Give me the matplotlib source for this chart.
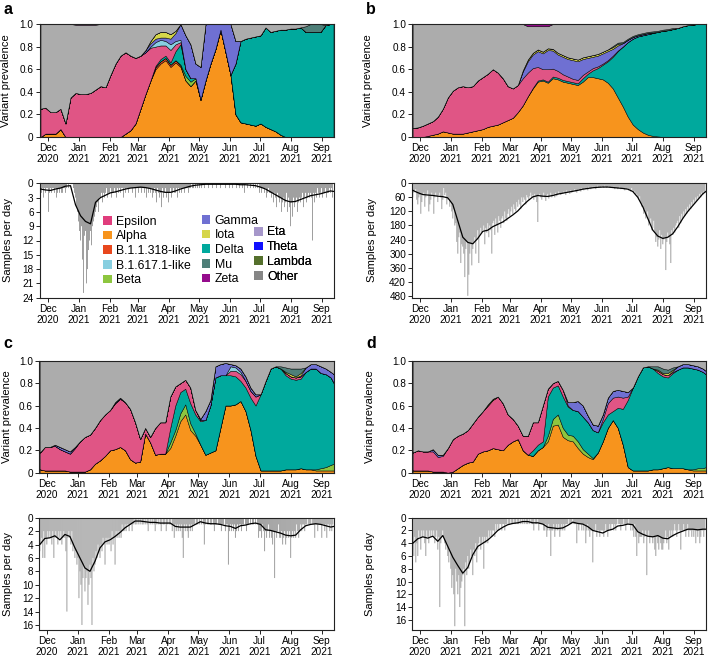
import matplotlib
matplotlib.use('Agg')
import matplotlib.pyplot as plt
import matplotlib.dates as mdates
from matplotlib.patches import Patch
import pandas as pd

plt.rcParams['font.family'] = ['Liberation Sans', 'DejaVu Sans']

# ---------------- x data ----------------
START = '2020-11-24'
N_DAYS = 293
GRID_DAYS = [0, 5, 10, 15, 20, 25, 30, 35, 40, 45, 50, 55, 60, 65, 70, 75, 80, 85, 90, 95,
             100, 105, 110, 115, 120, 125, 130, 135, 140, 145, 150, 155, 160, 165, 170, 175, 180, 185, 190, 195,
             200, 205, 210, 215, 220, 225, 230, 235, 240, 245, 250, 255, 260, 265, 270, 275, 280, 285, 290, 293]
MONTH_TICKS = ['2020-12-01', '2021-01-01', '2021-02-01', '2021-03-01', '2021-04-01',
               '2021-05-01', '2021-06-01', '2021-07-01', '2021-08-01', '2021-09-01']
MONTH_LABELS = ['Dec\n2020', 'Jan\n2021', 'Feb\n2021', 'Mar\n2021', 'Apr\n2021',
                'May\n2021', 'Jun\n2021', 'Jul\n2021', 'Aug\n2021', 'Sep\n2021']

VARIANTS = ['Epsilon', 'Alpha', 'B.1.1.318-like', 'B.1.617.1-like', 'Beta', 'Gamma', 'Iota',
            'Delta', 'Mu', 'Zeta', 'Eta', 'Theta', 'Lambda', 'Other']
FILL_COLORS = ['#e05585', '#f7941d', '#e8471d', '#88cfe0', '#8dc63f', '#6f70d2', '#d6d64a',
               '#00a99d', '#4e7f78', '#950c8c', '#a697ca', '#1010ff', '#55702c', '#acacac']
LEGEND_COLORS = ['#e03d7c', '#f7941d', '#e8471d', '#88cfe0', '#8dc63f', '#6f70d2', '#d6d64a',
                 '#00a99d', '#4e7f78', '#950c8c', '#a697ca', '#1010ff', '#55702c', '#868686']
STACK_ORDER = ['Alpha', 'B.1.1.318-like', 'Beta', 'Delta', 'Epsilon', 'B.1.617.1-like',
               'Gamma', 'Iota', 'Mu', 'Other', 'Zeta']

# ---------------- panel a: variant shares ----------------
a_alpha = [0, .03, .03, .03, .07, 0, 0, 0, 0, 0,
           0, 0, 0, 0, 0, 0, 0, .03, .06, .12,
           .25, .38, .5, .6, .65, .68, .62, .66, .62, .5,
           .45, .5, .33, .5, .65, .78, .95, .75, .55, .2,
           .13, .12, .11, .1, .12, .09, .07, .05, .02, 0,
           0, 0, 0, 0, 0, 0, 0, 0, 0, 0]
a_b11318 = [0, 0, 0, 0, 0, 0, 0, 0, 0, 0,
            0, 0, 0, 0, 0, 0, 0, 0, 0, 0,
            0, 0, 0, .02, .02, .02, .02, .02, .01, 0,
            0, 0, 0, 0, 0, 0, 0, 0, 0, 0,
            0, 0, 0, 0, 0, 0, 0, 0, 0, 0,
            0, 0, 0, 0, 0, 0, 0, 0, 0, 0]
a_b16171 = [0, 0, 0, 0, 0, 0, 0, 0, 0, 0,
            0, 0, 0, 0, 0, 0, 0, 0, 0, 0,
            0, 0, .01, .04, .05, .04, .05, .03, .02, 0,
            0, 0, 0, 0, 0, 0, 0, 0, 0, 0,
            0, 0, 0, 0, 0, 0, 0, 0, 0, 0,
            0, 0, 0, 0, 0, 0, 0, 0, 0, 0]
a_beta = [0, 0, 0, 0, 0, 0, 0, 0, 0, 0,
          0, 0, 0, 0, 0, 0, 0, 0, 0, 0,
          0, 0, 0, 0, 0, 0, 0, 0, .01, .04,
          .04, .02, 0, 0, 0, 0, 0, 0, 0, 0,
          0, 0, 0, 0, 0, 0, 0, 0, 0, 0,
          0, 0, 0, 0, 0, 0, 0, 0, 0, 0]
a_delta = [0, 0, 0, 0, 0, 0, 0, 0, 0, 0,
           0, 0, 0, 0, 0, 0, 0, 0, 0, 0,
           0, 0, 0, .01, .02, .02, .02, .08, .18, .06,
           .03, 0, 0, 0, 0, 0, 0, 0, 0, .45,
           .72, .75, .77, .79, .78, .88, .86, .89, .93, .95,
           .96, .96, .97, .93, .93, .93, .93, .99, 1, 1]
a_epsilon = [.25, .23, .19, .19, .18, .12, .35, .39, .38, .38,
             .39, .42, .45, .44, .55, .65, .72, .72, .66, .58,
             .47, .37, .29, .17, .12, .09, .11, .06, .02, 0,
             0, 0, 0, 0, 0, 0, 0, 0, 0, 0,
             0, 0, 0, 0, 0, 0, 0, 0, 0, 0,
             0, 0, 0, 0, 0, 0, 0, 0, 0, 0]
a_gamma = [0, 0, 0, 0, 0, 0, 0, 0, 0, 0,
           0, 0, 0, 0, 0, 0, 0, 0, 0, 0,
           0, .02, .03, .03, .02, .03, .05, .07, .14, .3,
           .3, .13, .29, .5, .35, .22, .05, .25, .45, .2,
           0, 0, 0, 0, 0, 0, 0, 0, 0, 0,
           0, 0, 0, 0, 0, 0, 0, 0, 0, 0]
a_iota = [0, 0, 0, 0, 0, 0, 0, 0, 0, 0,
          0, 0, 0, 0, 0, 0, 0, 0, 0, 0,
          0, 0, .02, .04, .05, .05, .04, .02, 0, 0,
          0, 0, 0, 0, 0, 0, 0, 0, 0, 0,
          0, 0, 0, 0, 0, 0, 0, 0, 0, 0,
          0, 0, 0, 0, 0, 0, 0, 0, 0, 0]
a_mu = [0, 0, 0, 0, 0, 0, 0, 0, 0, 0,
        0, 0, 0, 0, 0, 0, 0, 0, 0, 0,
        0, 0, 0, 0, 0, 0, 0, 0, 0, 0,
        0, 0, 0, 0, 0, 0, 0, 0, 0, 0,
        0, 0, 0, 0, 0, 0, 0, 0, 0, 0,
        0, 0, 0, .05, .07, .07, .07, 0, 0, 0]
a_zeta = [0, 0, 0, 0, 0, 0, 0, .006, .006, .006,
          .006, .006, 0, 0, 0, 0, 0, 0, 0, 0,
          0, 0, 0, 0, 0, 0, 0, 0, 0, 0,
          0, 0, 0, 0, 0, 0, 0, 0, 0, 0,
          0, 0, 0, 0, 0, 0, 0, 0, 0, 0,
          0, 0, 0, 0, 0, 0, 0, 0, 0, 0]
a_other = [.75, .74, .78, .78, .75, .88, .65, .604, .614, .614,
           .604, .574, .55, .56, .45, .35, .28, .25, .28, .3,
           .28, .23, .15, .09, .07, .07, .09, .06, 0, .1,
           .18, .35, .38, 0, 0, 0, 0, 0, 0, .15,
           .15, .13, .12, .11, .1, .03, .07, .06, .05, .05,
           .04, .04, .03, .02, 0, 0, 0, .01, 0, 0]

# ---------------- panel b: variant shares ----------------
b_alpha = [0, 0, 0, .01, .02, .03, .05, .04, .03, .03,
           .03, .04, .05, .06, .07, .09, .1, .11, .13, .15,
           .17, .22, .28, .36, .43, .49, .5, .48, .52, .51,
           .49, .48, .47, .46, .49, .53, .53, .52, .51, .48,
           .43, .35, .27, .18, .11, .07, .04, .02, .01, .005,
           0, 0, 0, 0, 0, 0, 0, 0, 0, 0]
b_delta = [0, 0, 0, 0, 0, 0, 0, 0, 0, 0,
           0, 0, 0, 0, 0, 0, 0, 0, 0, 0,
           0, 0, 0, 0, .005, .01, .01, .01, .015, .015,
           .015, .015, .015, .015, .03, .03, .06, .09, .13, .19,
           .28, .41, .53, .66, .76, .82, .86, .89, .91, .925,
           .94, .945, .955, .965, .98, .99, .995, 1, 1, 1]
b_epsilon = [.08, .085, .1, .11, .12, .15, .2, .31, .38, .41,
             .42, .4, .4, .44, .46, .47, .5, .46, .39, .3,
             .26, .24, .24, .21, .175, .12, .09, .11, .07, .06,
             .05, .04, .03, .03, .03, .02, .02, .015, .01, .01,
             .01, .005, 0, 0, 0, 0, 0, 0, 0, 0,
             0, 0, 0, 0, 0, 0, 0, 0, 0, 0]
b_gamma = [0, 0, 0, 0, 0, 0, 0, 0, 0, 0,
           0, 0, 0, 0, 0, 0, 0, 0, 0, 0,
           0, 0, .06, .1, .12, .14, .14, .17, .16, .145,
           .155, .155, .165, .165, .14, .12, .1, .095, .09, .08,
           .06, .045, .03, .02, .015, .01, .01, .01, .005, 0,
           0, 0, 0, 0, 0, 0, 0, 0, 0, 0]
b_iota = [0, 0, 0, 0, 0, 0, 0, 0, 0, 0,
          0, 0, 0, 0, 0, 0, 0, 0, 0, 0,
          0, 0, .01, .015, .015, .015, .015, .015, .015, .015,
          .015, .015, .015, .015, .015, .015, .015, .015, .015, .015,
          .015, .015, 0, 0, 0, 0, 0, 0, 0, 0,
          0, 0, 0, 0, 0, 0, 0, 0, 0, 0]
b_mu = [0, 0, 0, 0, 0, 0, 0, 0, 0, 0,
        0, 0, 0, 0, 0, 0, 0, 0, 0, 0,
        0, 0, 0, 0, 0, 0, 0, 0, 0, 0,
        0, 0, 0, 0, 0, 0, 0, 0, 0, 0,
        .01, .01, .01, .01, .01, .01, .01, .01, .01, .01,
        .01, .01, .01, 0, 0, 0, 0, 0, 0, 0]
b_zeta = [0, 0, 0, 0, 0, 0, 0, 0, 0, 0,
          0, 0, 0, 0, 0, 0, 0, 0, 0, 0,
          0, 0, 0, .02, .02, .02, .02, .02, 0, 0,
          0, 0, 0, 0, 0, 0, 0, 0, 0, 0,
          0, 0, 0, 0, 0, 0, 0, 0, 0, 0,
          0, 0, 0, 0, 0, 0, 0, 0, 0, 0]
b_other = [.92, .915, .9, .88, .86, .82, .75, .65, .59, .56,
           .55, .56, .55, .5, .47, .44, .4, .43, .48, .55,
           .57, .54, .41, .295, .235, .205, .225, .195, .22, .255,
           .275, .295, .305, .315, .295, .285, .275, .265, .245, .225,
           .195, .165, .16, .13, .105, .09, .08, .07, .065, .06,
           .05, .045, .035, .035, .02, .01, .005, 0, 0, 0]

# ---------------- panel c: variant shares ----------------
c_alpha = [.03, .02, .02, .02, .02, .02, .01, .01, .01, .01,
           .03, .08, .11, .15, .2, .21, .23, .2, .12, .09,
           .1, .35, .27, .16, .17, .17, .22, .33, .46, .52,
           .38, .33, .25, .16, .18, .2, .4, .6, .6, .61,
           .64, .55, .38, .15, .02, .02, .02, .02, .02, .03,
           .03, .03, .04, .03, .03, .02, .02, .02, .02, .02]
c_beta = [0, 0, 0, 0, 0, 0, 0, 0, 0, 0,
          0, 0, 0, 0, 0, 0, 0, 0, 0, 0,
          0, 0, 0, 0, 0, 0, .05, .05, .07, .09,
          .06, .02, 0, 0, 0, 0, 0, 0, 0, 0,
          0, 0, 0, 0, 0, 0, 0, 0, 0, 0,
          0, 0, 0, 0, 0, .01, .02, .03, .05, .06]
c_delta = [0, 0, 0, 0, 0, 0, 0, 0, 0, 0,
           0, 0, 0, 0, 0, 0, 0, 0, 0, 0,
           0, 0, 0, 0, 0, 0, .13, .22, .19, .14,
           .18, .17, .21, .31, .42, .65, .47, .27, .27, .25,
           .18, .21, .29, .45, .68, .8, .91, .93, .91, .84,
           .81, .8, .8, .87, .9, .9, .85, .83, .78, .72]
c_epsilon = [.15, .21, .21, .22, .19, .17, .16, .21, .27, .31,
             .31, .32, .36, .37, .36, .41, .43, .43, .45, .36,
             .2, .05, .05, .24, .28, .28, .28, .17, .08, .08,
             .14, .04, .01, 0, 0, 0, 0, 0, .04, .05,
             .06, .06, .06, .08, 0, 0, 0, 0, 0, .02,
             .02, .02, .02, 0, 0, 0, 0, 0, 0, 0]
c_b16171 = [0, 0, 0, 0, 0, 0, 0, 0, 0, 0,
            0, 0, 0, 0, 0, 0, 0, 0, 0, 0,
            0, 0, 0, 0, 0, 0, 0, 0, 0, 0,
            0, 0, 0, 0, 0, 0, 0, 0, .04, .03,
            .02, 0, 0, 0, 0, 0, 0, 0, 0, 0,
            0, 0, 0, 0, 0, 0, 0, 0, 0, 0]
c_gamma = [0, 0, 0, .01, .02, .02, .02, .01, 0, 0,
           0, 0, 0, 0, 0, .01, .01, 0, 0, 0,
           0, 0, 0, 0, 0, 0, 0, 0, 0, 0,
           0, 0, .01, .08, .05, .1, .1, .11, .02, .02,
           .03, .04, .03, .02, 0, 0, 0, 0, 0, 0,
           0, 0, .01, .04, .04, .04, .06, .05, .05, .08]
c_iota = [0, 0, 0, 0, 0, 0, 0, 0, 0, 0,
          0, 0, 0, 0, 0, 0, 0, 0, 0, 0,
          0, 0, 0, 0, 0, 0, 0, 0, 0, 0,
          0, 0, 0, 0, 0, 0, 0, 0, 0, 0,
          0, 0, 0, 0, 0, 0, 0, 0, 0, .01,
          .02, .01, .02, 0, 0, 0, 0, 0, 0, 0]
c_mu = [0, 0, 0, 0, 0, 0, 0, 0, 0, 0,
        0, 0, 0, 0, 0, 0, 0, 0, 0, 0,
        0, 0, 0, 0, 0, 0, 0, 0, 0, 0,
        0, 0, 0, 0, 0, 0, 0, 0, 0, 0,
        0, 0, 0, 0, 0, 0, 0, 0, .02, .04,
        .05, .07, .04, 0, 0, 0, 0, 0, 0, 0]
c_other = [.82, .77, .77, .75, .77, .79, .81, .77, .72, .68,
           .66, .6, .53, .48, .44, .37, .33, .37, .43, .55,
           .7, .6, .68, .6, .55, .55, .32, .23, .2, .17,
           .24, .44, .52, .45, .35, .05, .03, .02, .03, .04,
           .07, .14, .24, .3, .3, .18, .07, .05, .05, .06,
           .07, .07, .07, .06, .03, .03, .05, .07, .1, .12]

# ---------------- panel d: variant shares ----------------
d_alpha = [.02, .02, .02, .02, .01, .01, .01, 0, .01, .04,
           .07, .09, .1, .17, .19, .2, .22, .21, .2, .25,
           .28, .3, .2, .16, .15, .2, .23, .28, .42, .43,
           .32, .29, .28, .22, .17, .14, .12, .18, .28, .4,
           .47, .4, .25, .05, .02, .02, .02, .02, .03, .03,
           .04, .05, .04, .04, .04, .03, .02, .02, .02, .02]
d_beta = [0, 0, 0, 0, 0, 0, 0, 0, 0, 0,
          0, 0, 0, 0, 0, 0, 0, 0, 0, 0,
          0, 0, 0, 0, 0, 0, 0, .05, .06, .09,
          .08, .05, .05, .06, .04, .03, .01, 0, 0, 0,
          0, 0, 0, 0, 0, 0, 0, 0, 0, 0,
          0, 0, 0, 0, 0, 0, .01, .02, .02, .03]
d_delta = [0, 0, 0, 0, 0, 0, 0, 0, 0, 0,
           0, 0, 0, 0, 0, 0, 0, 0, 0, 0,
           0, 0, 0, 0, .05, .05, .05, .35, .28, .26,
           .28, .25, .23, .27, .29, .28, .25, .18, .17, .12,
           .08, .18, .32, .6, .74, .84, .92, .93, .9, .86,
           .82, .8, .85, .88, .9, .91, .9, .88, .86, .83]
d_epsilon = [.16, .18, .17, .17, .18, .13, .14, .22, .29, .29,
             .28, .29, .34, .33, .36, .4, .43, .47, .42, .27,
             .2, .12, .13, .17, .25, .2, .32, .07, .04, .04,
             .06, .01, 0, 0, 0, 0, 0, 0, .03, .1,
             .12, .1, .1, .03, 0, 0, 0, 0, 0, .02,
             .02, .02, .01, 0, 0, 0, 0, 0, 0, 0]
d_gamma = [0, 0, 0, 0, .02, .02, .01, 0, 0, 0,
           0, 0, 0, 0, 0, 0, 0, 0, 0, 0,
           0, 0, 0, 0, 0, 0, 0, 0, 0, 0,
           0, .03, .07, .09, .1, .06, .05, .06, .04, .05,
           .06, .06, .06, .04, 0, 0, 0, 0, 0, 0,
           0, 0, .01, .03, .03, .03, .03, .03, .03, .03]
d_iota = [0, 0, 0, 0, 0, 0, 0, 0, 0, 0,
          0, 0, 0, 0, 0, .01, .01, 0, 0, 0,
          0, 0, 0, 0, 0, 0, 0, 0, 0, 0,
          0, 0, 0, 0, 0, 0, 0, 0, 0, 0,
          0, 0, 0, 0, 0, 0, 0, 0, 0, .01,
          .01, .02, .01, 0, 0, 0, 0, 0, 0, 0]
d_mu = [0, 0, 0, 0, 0, 0, 0, 0, 0, 0,
        0, 0, 0, 0, 0, 0, 0, 0, 0, 0,
        0, 0, 0, 0, 0, 0, 0, 0, 0, 0,
        0, 0, 0, 0, 0, 0, 0, 0, 0, 0,
        0, 0, 0, 0, 0, 0, 0, 0, .02, .03,
        .04, .03, .02, 0, 0, 0, 0, 0, 0, 0]
d_other = [.82, .8, .81, .81, .79, .84, .84, .78, .7, .67,
           .65, .62, .56, .5, .45, .39, .34, .32, .38, .48,
           .52, .58, .67, .67, .55, .55, .4, .25, .2, .18,
           .26, .37, .37, .36, .4, .49, .57, .58, .48, .33,
           .27, .26, .27, .28, .24, .14, .06, .05, .05, .05,
           .07, .08, .06, .05, .03, .03, .04, .05, .07, .09]

# ---------------- samples per day (daily bars) ----------------
a_samples = [1, 2, 1, 3, 1, 2, 1, 1, 6, 2,
             1, 2, 1, 1, 2, 1, 3, 2, 1, 2,
             1, 2, 2, 1, 1, 2, 1, 0, 1, 0,
             0, 0, 0, 1, 2, 3, 5, 6, 8, 10,
             12, 9, 16, 23, 11, 10, 21, 18, 14, 12,
             10, 13, 9, 8, 7, 6, 5, 4, 6, 3,
             3, 2, 4, 2, 3, 2, 1, 3, 2, 2,
             1, 3, 2, 2, 1, 2, 3, 1, 2, 1,
             2, 1, 1, 3, 1, 2, 1, 1, 2, 1,
             1, 1, 2, 1, 1, 3, 1, 1, 2, 1,
             1, 2, 1, 1, 2, 1, 3, 1, 2, 1,
             2, 1, 3, 2, 1, 2, 4, 1, 2, 3,
             2, 5, 1, 3, 2, 1, 3, 2, 4, 2,
             1, 3, 2, 1, 2, 2, 1, 3, 1, 2,
             1, 2, 1, 1, 2, 1, 1, 1, 2, 1,
             1, 0, 1, 1, 0, 1, 0, 1, 0, 1,
             0, 1, 0, 0, 1, 0, 0, 0, 1, 0,
             0, 0, 1, 0, 0, 0, 1, 0, 0, 0,
             1, 0, 0, 0, 0, 1, 0, 0, 0, 1,
             0, 0, 1, 0, 0, 0, 1, 0, 0, 1,
             0, 0, 1, 0, 2, 0, 0, 1, 0, 0,
             1, 0, 0, 1, 0, 1, 0, 1, 0, 2,
             1, 2, 1, 1, 2, 1, 3, 2, 1, 2,
             2, 3, 2, 4, 2, 3, 5, 2, 3, 4,
             3, 6, 4, 3, 5, 4, 2, 6, 3, 5,
             9, 4, 7, 3, 5, 4, 3, 6, 4, 3,
             4, 3, 2, 5, 3, 2, 4, 3, 2, 3,
             2, 3, 12, 2, 4, 2, 3, 1, 2, 3,
             2, 1, 3, 2, 2, 1, 3, 2, 2, 1,
             2, 1, 3]
b_samples = [60, 40, 30, 25, 70, 90, 60, 50, 130, 80,
             50, 40, 100, 60, 45, 30, 120, 90, 70, 40,
             50, 130, 60, 40, 55, 80, 50, 40, 60, 110,
             70, 20, 50, 40, 90, 70, 60, 100, 80, 120,
             150, 110, 180, 170, 250, 300, 230, 210, 340, 260,
             270, 300, 400, 280, 250, 480, 390, 300, 260, 350,
             280, 250, 230, 300, 240, 200, 340, 220, 190, 210,
             200, 180, 260, 190, 210, 170, 230, 180, 200, 300,
             170, 160, 220, 150, 180, 210, 140, 160, 190, 150,
             140, 170, 120, 150, 160, 130, 110, 140, 120, 100,
             130, 90, 110, 120, 80, 100, 70, 90, 110, 60,
             80, 60, 70, 90, 50, 60, 70, 55, 40, 60,
             50, 70, 45, 60, 80, 165, 50, 45, 60, 70,
             55, 40, 60, 75, 50, 45, 65, 55, 40, 60,
             50, 45, 60, 40, 55, 50, 35, 45, 50, 40,
             45, 35, 40, 50, 30, 40, 35, 45, 30, 40,
             35, 30, 25, 35, 40, 30, 25, 30, 35, 20,
             25, 30, 20, 25, 20, 30, 15, 20, 25, 20,
             15, 20, 15, 25, 15, 10, 20, 15, 18, 12,
             15, 20, 10, 15, 20, 15, 12, 18, 20, 15,
             20, 15, 25, 18, 20, 25, 20, 15, 25, 20,
             20, 25, 30, 20, 25, 20, 30, 25, 35, 20,
             30, 40, 35, 50, 45, 60, 70, 55, 80, 100,
             90, 130, 110, 150, 140, 120, 180, 170, 150, 200,
             190, 160, 210, 250, 230, 270, 240, 200, 280, 220,
             260, 240, 230, 370, 250, 210, 230, 260, 340, 200,
             220, 190, 210, 180, 170, 160, 190, 140, 170, 130,
             150, 120, 140, 110, 130, 100, 120, 90, 110, 80,
             95, 70, 85, 60, 75, 55, 65, 45, 60, 40,
             50, 35, 40]
c_samples = [5, 4, 3, 6, 2, 6, 3, 4, 2, 3,
             2, 3, 4, 2, 6, 3, 2, 3, 4, 2,
             3, 2, 4, 3, 2, 3, 5, 14, 3, 2,
             3, 4, 2, 5, 4, 6, 5, 7, 6, 12,
             8, 10, 16, 9, 7, 11, 9, 8, 13, 10,
             7, 9, 16, 6, 8, 7, 5, 6, 4, 5,
             6, 4, 5, 3, 4, 7, 3, 4, 3, 4,
             3, 5, 2, 4, 3, 7, 2, 3, 2, 3,
             2, 3, 1, 2, 2, 1, 2, 1, 1, 2,
             1, 1, 2, 1, 0, 1, 1, 0, 1, 0,
             1, 0, 1, 1, 0, 1, 0, 1, 2, 0,
             1, 0, 1, 0, 1, 2, 1, 0, 1, 0,
             1, 2, 0, 1, 1, 0, 2, 1, 0, 1,
             1, 0, 2, 1, 3, 1, 2, 1, 2, 1,
             2, 1, 3, 6, 1, 2, 1, 2, 3, 1,
             2, 1, 2, 1, 1, 0, 1, 1, 0, 1,
             0, 1, 0, 1, 4, 1, 0, 1, 1, 0,
             1, 1, 0, 1, 2, 1, 1, 0, 1, 1,
             1, 2, 1, 1, 0, 2, 1, 1, 7, 2,
             1, 2, 1, 2, 1, 3, 2, 1, 2, 1,
             1, 2, 1, 1, 0, 1, 2, 1, 1, 0,
             1, 0, 1, 1, 0, 1, 0, 1, 3, 2,
             2, 3, 1, 2, 5, 2, 3, 2, 1, 3,
             2, 3, 4, 2, 9, 2, 3, 2, 1, 3,
             3, 2, 4, 3, 2, 4, 3, 2, 3, 2,
             6, 3, 2, 3, 2, 3, 1, 2, 3, 2,
             1, 2, 1, 1, 2, 1, 1, 0, 1, 1,
             1, 0, 1, 1, 3, 1, 1, 2, 1, 1,
             1, 3, 1, 1, 2, 1, 3, 1, 1, 2,
             1, 2, 1]
d_samples = [5, 6, 3, 7, 4, 6, 2, 3, 5, 2,
             3, 2, 4, 6, 2, 3, 4, 2, 3, 2,
             3, 2, 4, 3, 2, 5, 3, 14, 4, 3,
             2, 3, 4, 5, 4, 6, 7, 5, 8, 11,
             9, 12, 17, 8, 10, 12, 9, 14, 11, 10,
             9, 8, 17, 7, 9, 6, 8, 7, 5, 6,
             9, 5, 6, 4, 7, 5, 4, 3, 5, 4,
             3, 8, 3, 4, 3, 4, 2, 3, 2, 3,
             2, 2, 3, 1, 2, 1, 2, 1, 1, 2,
             1, 1, 2, 1, 1, 0, 1, 1, 0, 1,
             1, 0, 1, 1, 0, 1, 1, 0, 1, 0,
             1, 0, 1, 0, 1, 1, 0, 1, 0, 1,
             1, 2, 0, 1, 1, 0, 2, 1, 1, 1,
             1, 2, 2, 1, 3, 2, 1, 2, 6, 2,
             2, 1, 3, 2, 1, 2, 1, 3, 2, 1,
             2, 1, 2, 1, 1, 1, 0, 1, 1, 1,
             0, 1, 1, 1, 4, 1, 2, 1, 1, 2,
             1, 2, 1, 4, 2, 1, 2, 3, 2, 2,
             7, 2, 2, 1, 3, 2, 2, 3, 2, 2,
             2, 3, 2, 1, 2, 3, 2, 1, 2, 1,
             1, 2, 1, 2, 1, 0, 1, 1, 2, 1,
             1, 0, 1, 2, 1, 1, 0, 1, 2, 1,
             2, 3, 1, 3, 6, 2, 4, 3, 3, 3,
             2, 4, 3, 2, 9, 3, 2, 4, 3, 3,
             4, 3, 5, 6, 3, 4, 5, 3, 4, 5,
             5, 4, 3, 2, 4, 3, 5, 2, 3, 2,
             3, 2, 1, 2, 3, 2, 1, 2, 5, 2,
             2, 1, 2, 3, 2, 1, 3, 2, 2, 3,
             2, 3, 2, 4, 2, 3, 2, 4, 3, 2,
             2, 3, 2]

# smoothed averages (on GRID_DAYS)
a_line = [1.2, 1.4, 1.5, 1.2, 1.0, 0.6, 0.5, 4.5, 6.8, 8.0,
          8.5, 4.0, 3.0, 2.5, 2.0, 1.8, 1.5, 1.2, 1.0, 0.9,
          0.8, 0.9, 1.1, 1.4, 1.7, 1.9, 1.9, 1.6, 1.2, 0.9,
          0.6, 0.4, 0.3, 0.2, 0.2, 0.2, 0.2, 0.2, 0.2, 0.2,
          0.3, 0.3, 0.4, 0.5, 0.8, 1.2, 1.8, 2.4, 3.0, 3.6,
          3.9, 3.8, 3.4, 3.0, 2.6, 2.4, 2.2, 1.9, 1.6, 1.7]
b_line = [30, 40, 48, 50, 52, 55, 57, 62, 90, 160,
          230, 252, 258, 235, 205, 200, 185, 175, 165, 150,
          135, 118, 95, 75, 58, 52, 55, 56, 52, 46,
          42, 38, 34, 30, 25, 22, 19, 17, 16, 16,
          18, 20, 22, 25, 35, 60, 100, 150, 200, 225,
          235, 230, 215, 185, 150, 120, 95, 70, 45, 35]
c_line = [4.0, 3.1, 3.0, 2.7, 3.3, 2.5, 2.8, 4.5, 6.0, 7.5,
          8.0, 6.5, 4.5, 3.6, 3.3, 2.8, 2.2, 1.5, 1.0, 0.5,
          0.5, 0.6, 0.7, 0.7, 0.8, 0.8, 0.8, 1.3, 1.4, 1.4,
          1.4, 1.0, 0.6, 0.8, 0.9, 0.9, 1.0, 1.2, 1.3, 1.6,
          1.2, 1.1, 0.9, 0.8, 1.0, 1.8, 1.9, 2.1, 2.3, 2.6,
          2.7, 2.6, 1.8, 1.2, 1.0, 0.9, 1.0, 1.2, 1.4, 1.3]
d_line = [4.0, 3.3, 3.0, 3.2, 2.9, 3.7, 2.8, 4.5, 6.2, 7.5,
          8.7, 7.8, 5.8, 4.5, 4.0, 3.5, 2.8, 2.0, 1.5, 1.1,
          0.9, 0.8, 0.6, 0.6, 0.8, 0.8, 1.0, 1.5, 1.6, 1.7,
          1.6, 1.2, 0.7, 0.9, 1.0, 1.4, 2.0, 2.2, 2.4, 2.0,
          1.8, 1.3, 1.2, 1.0, 1.1, 2.2, 2.6, 2.9, 3.0, 2.8,
          3.2, 3.3, 2.8, 2.4, 2.1, 1.8, 1.8, 1.9, 1.8, 1.8]

SAMPLE_TICKS = {'a': [0, 3, 6, 9, 12, 15, 18, 21, 24],
                'b': [0, 60, 120, 180, 240, 300, 360, 420, 480],
                'c': [0, 2, 4, 6, 8, 10, 12, 14, 16],
                'd': [0, 2, 4, 6, 8, 10, 12, 14, 16]}
SAMPLE_MAX = {'a': 24, 'b': 488, 'c': 16.75, 'd': 17.6}

# ---------------- build tables ----------------
PANELS = {
    'a': {'Alpha': a_alpha, 'B.1.1.318-like': a_b11318, 'B.1.617.1-like': a_b16171, 'Beta': a_beta,
          'Delta': a_delta, 'Epsilon': a_epsilon, 'Gamma': a_gamma, 'Iota': a_iota, 'Mu': a_mu,
          'Zeta': a_zeta, 'Other': a_other},
    'b': {'Alpha': b_alpha, 'Delta': b_delta, 'Epsilon': b_epsilon, 'Gamma': b_gamma, 'Iota': b_iota,
          'Mu': b_mu, 'Zeta': b_zeta, 'Other': b_other},
    'c': {'Alpha': c_alpha, 'Beta': c_beta, 'Delta': c_delta, 'Epsilon': c_epsilon,
          'B.1.617.1-like': c_b16171, 'Gamma': c_gamma, 'Iota': c_iota, 'Mu': c_mu, 'Other': c_other},
    'd': {'Alpha': d_alpha, 'Beta': d_beta, 'Delta': d_delta, 'Epsilon': d_epsilon, 'Gamma': d_gamma,
          'Iota': d_iota, 'Mu': d_mu, 'Other': d_other},
}
SAMPLES = {'a': (a_samples, a_line), 'b': (b_samples, b_line),
           'c': (c_samples, c_line), 'd': (d_samples, d_line)}

for k, tab in PANELS.items():
    for name, vals in tab.items():
        if len(vals) != len(GRID_DAYS):
            raise ValueError(f'{k} {name} has {len(vals)}')
for k, (s, l) in SAMPLES.items():
    if len(s) != N_DAYS or len(l) != len(GRID_DAYS):
        raise ValueError(f'{k} samples {len(s)} line {len(l)}')

fill_col = dict(zip(VARIANTS, FILL_COLORS))
leg_col = dict(zip(VARIANTS, LEGEND_COLORS))

start = pd.Timestamp(START)
day_num = [mdates.date2num(start + pd.Timedelta(days=i)) for i in range(N_DAYS)]
grid_num = [mdates.date2num(start + pd.Timedelta(days=d)) for d in GRID_DAYS]
xmin = mdates.date2num(start - pd.Timedelta(hours=12))
xmax = mdates.date2num(start + pd.Timedelta(days=293, hours=12))
tick_num = [mdates.date2num(pd.Timestamp(t)) for t in MONTH_TICKS]

W, H = 708, 658
fig = plt.figure(figsize=(W / 100, H / 100), dpi=100)


def axes_px(x0, y0, x1, y1):
    return fig.add_axes([x0 / W, 1 - y1 / H, (x1 - x0) / W, (y1 - y0) / H])


LAYOUT = {
    'a': ((40, 24, 334, 137), (40, 183.3, 334, 297.7), -0.097, -0.092),
    'b': ((412.3, 24, 706.3, 137), (412.3, 183.3, 706.3, 297.7), -0.133, -0.121),
    'c': ((39.3, 360.7, 334.3, 472.7), (39.3, 517.7, 334.3, 630), -0.094, -0.088),
    'd': ((412.3, 360.7, 706.3, 472.7), (412.3, 517.7, 706.3, 630), -0.128, -0.128),
}
LETTER_POS = {'a': (3, 2), 'b': (366, 2), 'c': (3, 336), 'd': (366, 336)}

TICK_FS = 7.2
LABEL_FS = 8.0


def style_axis(ax):
    ax.set_xlim(xmin, xmax)
    ax.set_xticks(tick_num)
    ax.set_xticklabels(MONTH_LABELS, linespacing=1.15)
    ax.tick_params(axis='both', direction='out', length=3, width=0.6, labelsize=TICK_FS, pad=1.5,
                   colors='black')
    for sp in ax.spines.values():
        sp.set_linewidth(0.8)
        sp.set_color('#222222')


axes_bottom = {}
for key in ['a', 'b', 'c', 'd']:
    top_box, bot_box, lab_top, lab_bot = LAYOUT[key]
    ax = axes_px(*top_box)
    tab = PANELS[key]
    names = [n for n in STACK_ORDER if n in tab]
    ax.stackplot(grid_num, [tab[n] for n in names], colors=[fill_col[n] for n in names],
                 edgecolor='black', linewidth=0.35)
    ax.set_ylim(0, 1)
    ax.set_yticks([0, 0.2, 0.4, 0.6, 0.8, 1.0])
    ax.set_yticklabels(['0', '0.2', '0.4', '0.6', '0.8', '1.0'])
    style_axis(ax)
    ax.set_ylabel('Variant prevalence', fontsize=LABEL_FS)
    ax.yaxis.set_label_coords(lab_top, 0.5)

    axb = axes_px(*bot_box)
    samples, line = SAMPLES[key]
    # snap=False keeps sub-pixel wide bars from vanishing under pixel snapping
    axb.bar(day_num, samples, width=1.0, color='#a0a0a0', linewidth=0, zorder=2, snap=False)
    axb.plot(grid_num, line, color='black', lw=0.9, zorder=3)
    axb.set_ylim(SAMPLE_MAX[key], 0)
    axb.set_yticks(SAMPLE_TICKS[key])
    style_axis(axb)
    axb.set_ylabel('Samples per day', fontsize=LABEL_FS)
    axb.yaxis.set_label_coords(lab_bot, 0.5)
    axes_bottom[key] = axb

    lx, ly = LETTER_POS[key]
    fig.text(lx / W, 1 - ly / H, key, fontsize=11.5, fontweight='bold', va='top', ha='left')

# legend in panel a (three columns)
LEGEND_COLUMNS = [['Epsilon', 'Alpha', 'B.1.1.318-like', 'B.1.617.1-like', 'Beta'],
                  ['Gamma', 'Iota', 'Delta', 'Mu', 'Zeta'],
                  ['Eta', 'Theta', 'Lambda', 'Other']]
LEGEND_ANCHORS = [(103, 215.5), (201.5, 214.5), (254, 226.5)]
axl = axes_bottom['a']
for names, (lx, ly) in zip(LEGEND_COLUMNS, LEGEND_ANCHORS):
    handles = [Patch(facecolor=leg_col[n], edgecolor='none', label=n) for n in names]
    leg = axl.legend(handles=handles, loc='upper left', bbox_to_anchor=(lx / W, 1 - ly / H),
                     bbox_transform=fig.transFigure, frameon=False, fontsize=8.8,
                     handlelength=0.72, handleheight=0.72, handletextpad=0.35,
                     labelspacing=0.22, borderpad=0, borderaxespad=0)
    leg.set_zorder(5)
    axl.add_artist(leg)

fig.savefig('out.png', dpi=100)
